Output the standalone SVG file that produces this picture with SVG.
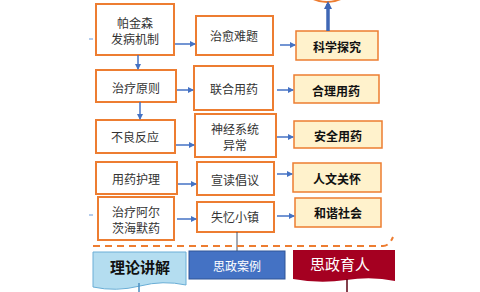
<svg xmlns="http://www.w3.org/2000/svg" width="480" height="292" viewBox="0 0 480 292">
<defs>
<marker id="ah" markerWidth="6" markerHeight="6" refX="5" refY="3" orient="auto" markerUnits="userSpaceOnUse">
<path d="M0,0 L6,3 L0,6 Z" fill="#4472C4"/>
</marker>
<marker id="ahb" markerWidth="10" markerHeight="8" refX="5" refY="4" orient="auto" markerUnits="userSpaceOnUse">
<path d="M0,0 L8,4 L0,8 Z" fill="#3F67B5"/>
</marker>
<style>
.b{fill:#fff;stroke:#ED7D31;stroke-width:2}
.g{fill:#FFF2CC;stroke:#ED7D31;stroke-width:1.5}
.t{font-family:"Noto Sans CJK SC","Noto Sans",sans-serif;font-size:12px;fill:#333;text-anchor:middle;dominant-baseline:central}
.tb{font-family:"Noto Sans CJK SC","Noto Sans",sans-serif;font-size:12px;font-weight:bold;fill:#111;text-anchor:middle;dominant-baseline:central}
.c{stroke:#4472C4;stroke-width:1.5;fill:none}
</style>
</defs>
<rect width="480" height="292" fill="#fff"/>
<g id="goal">
<ellipse cx="327" cy="-22" rx="28" ry="24" fill="#fff" stroke="#ED7D31" stroke-width="2"/>
</g>
<g id="c1n1"><rect class="b" x="96" y="4" width="78" height="51"/><text class="t" x="135" y="22">帕金森</text><text class="t" x="135" y="38">发病机制</text></g>
<g id="c1n2"><rect class="b" x="96" y="70" width="80" height="32"/><text class="t" x="136" y="87">治疗原则</text></g>
<g id="c1n3"><rect class="b" x="96" y="120" width="79" height="33"/><text class="t" x="135" y="136">不良反应</text></g>
<g id="c1n4"><rect class="b" x="96" y="162" width="81" height="32"/><text class="t" x="136" y="178">用药护理</text></g>
<g id="c1n5"><rect class="b" x="98" y="197" width="76" height="43"/><text class="t" x="136" y="211">治疗阿尔</text><text class="t" x="136" y="227">茨海默药</text></g>
<g id="c2n1"><rect class="b" x="196" y="16" width="77" height="39"/><text class="t" x="234" y="35">治愈难题</text></g>
<g id="c2n2"><rect class="b" x="194" y="66" width="79" height="44"/><text class="t" x="234" y="88">联合用药</text></g>
<g id="c2n3"><rect class="b" x="195" y="114" width="81" height="43"/><text class="t" x="235" y="128">神经系统</text><text class="t" x="235" y="144">异常</text></g>
<g id="c2n4"><rect class="b" x="197" y="162" width="77" height="33"/><text class="t" x="235" y="179">宣读倡议</text></g>
<g id="c2n5"><rect class="b" x="197" y="202" width="77" height="30"/><text class="t" x="235" y="216">失忆小镇</text></g>
<g id="c3n1"><rect class="g" x="296" y="31" width="82" height="29"/><text class="tb" x="337" y="46">科学探究</text></g>
<g id="c3n2"><rect class="g" x="294" y="75" width="85" height="28"/><text class="tb" x="336" y="90">合理用药</text></g>
<g id="c3n3"><rect class="g" x="294" y="121" width="88" height="27"/><text class="tb" x="338" y="135">安全用药</text></g>
<g id="c3n4"><rect class="g" x="293" y="163" width="88" height="29"/><text class="tb" x="337" y="178">人文关怀</text></g>
<g id="c3n5"><rect class="g" x="295" y="198" width="86" height="29"/><text class="tb" x="338" y="212">和谐社会</text></g>
<g id="bottom1"><path d="M93,252 H186 V285 Q163,280 140,286 Q116,292 93,287 Z" fill="#B4DDF0" stroke="#6AAED6" stroke-width="1"/><text class="tb" x="140" y="266" style="font-size:15px">理论讲解</text></g>
<g id="bottom2"><rect x="189" y="251" width="96" height="28" fill="#4472C4" stroke="#2F5597" stroke-width="1"/><text class="t" x="237" y="265" style="fill:#fff">思政案例</text></g>
<g id="bottom3"><path d="M293,250 H395 V281 Q372,276 346,280 Q320,284 293,279 Z" fill="#A50021"/><text class="t" x="340" y="263" style="fill:#fff;font-size:15px">思政育人</text></g>
<g id="connectors">
<line class="c" x1="138" y1="55" x2="138" y2="69" marker-end="url(#ah)"/>
<line class="c" x1="140" y1="102" x2="140" y2="119" marker-end="url(#ah)"/>
<line class="c" x1="175" y1="44" x2="195" y2="44" marker-end="url(#ah)"/>
<line class="c" x1="177" y1="90" x2="193" y2="90" marker-end="url(#ah)"/>
<line class="c" x1="176" y1="145" x2="194" y2="145" marker-end="url(#ah)"/>
<line class="c" x1="178" y1="184" x2="196" y2="184" marker-end="url(#ah)"/>
<line class="c" x1="177" y1="219" x2="196" y2="219" marker-end="url(#ah)"/>
<line class="c" x1="280" y1="45" x2="295" y2="45" marker-end="url(#ah)"/>
<line class="c" x1="277" y1="90" x2="293" y2="90" marker-end="url(#ah)"/>
<line class="c" x1="277" y1="137" x2="293" y2="137" marker-end="url(#ah)"/>
<line class="c" x1="277" y1="174" x2="292" y2="174" marker-end="url(#ah)"/>
<line class="c" x1="277" y1="216" x2="294" y2="216" marker-end="url(#ah)"/>
<line x1="328" y1="31" x2="328" y2="4" stroke="#3F67B5" stroke-width="3.5" marker-end="url(#ahb)"/>
<line x1="89" y1="39" x2="93" y2="39" stroke="#6A9ADB" stroke-width="1"/>
<line x1="89" y1="215" x2="93" y2="215" stroke="#6A9ADB" stroke-width="1"/>
<line x1="237" y1="232" x2="237" y2="251" stroke="#44546A" stroke-width="1"/>
<line x1="139" y1="283" x2="139" y2="292" stroke="#4A8EC2" stroke-width="1.5"/>
<line x1="347" y1="279" x2="347" y2="292" stroke="#5A0010" stroke-width="1.5"/>
<path d="M93,246 H383 Q389,246 393,237" fill="none" stroke="#ED7D31" stroke-width="2" stroke-dasharray="7,5"/>
</g>
</svg>
